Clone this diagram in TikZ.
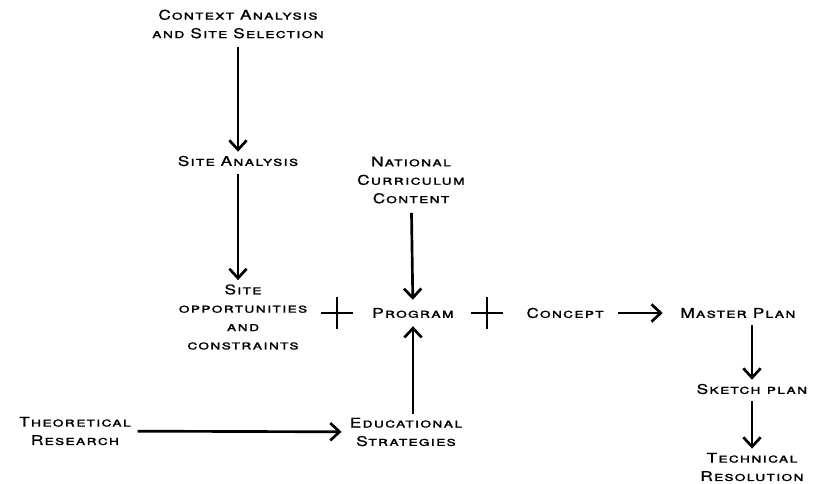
\documentclass[tikz,border=0pt]{standalone}
\usepackage{fontspec}
\setmainfont{TeX Gyre Heros}[FakeStretch=1.3,LetterSpace=8,FakeBold=0.8]
\usetikzlibrary{arrows.meta}
\usetikzlibrary{positioning}

\tikzset{
	stage/.style={align=center,inner sep=3pt,font=\fontsize{10}{13.8}\selectfont\scshape},
	flow/.style={-{Straight Barb[length=7pt,width=13pt,line width=2pt]},line width=2pt},
	plussign/.style={minimum size=23pt,inner sep=0pt}
}

\begin{document}
\begin{tikzpicture}[x=0.75pt,y=-0.75pt]
		\useasboundingbox (0,0) rectangle (823,484);

		\node [stage] (context) at (238,24) {Context Analysis\\and Site Selection};
		\node [stage] (siteanalysis) at (238,161) {Site Analysis};
		\node [stage] (siteopp) at (243,317) {Site\\opportunities\\and\\constraints};
		\node [stage] (national) at (411,180) {National\\Curriculum\\Content};
		\node [stage] (program) at (413,313) {Program};
		\node [stage] (concept) at (565,313) {Concept};
		\node [stage] (master) at (738,313) {Master Plan};
		\node [stage] (sketch) at (752,389) {Sketch plan};
		\node [stage] (technical) at (752,467) {Technical\\Resolution};
		\node [stage] (theory) at (75,431) {Theoretical\\Research};
		\node [stage] (edu) at (406,432) {Educational\\Strategies};

		\node [plussign] (plusa) at (337,313) {};
			\draw [line width=2pt] (plusa.north) -- (plusa.south);
			\draw [line width=2pt] (plusa.west) -- (plusa.east);
		\node [plussign] (plusb) at (487,313) {};
			\draw [line width=2pt] (plusb.north) -- (plusb.south);
			\draw [line width=2pt] (plusb.west) -- (plusb.east);

		\draw [flow,shorten <=3pt] (context) -- (siteanalysis);
		\draw [flow,shorten <=3pt] (siteanalysis) -- (siteanalysis |- siteopp.north);
		\draw [flow,shorten <=4pt,shorten >=3pt] (national) -- (program);
		\draw [flow,shorten >=3pt] (edu.north -| program) -- (program);
		\draw [flow,shorten <=2pt,shorten >=3pt] (theory) -- (edu);
		\draw [flow,shorten <=8pt,shorten >=10pt] (concept) -- (master);
		\draw [flow,shorten <=2pt] (master.south -| sketch) -- (sketch);
		\draw [flow,shorten <=2pt] (sketch) -- (technical);
	\end{tikzpicture}
\end{document}
